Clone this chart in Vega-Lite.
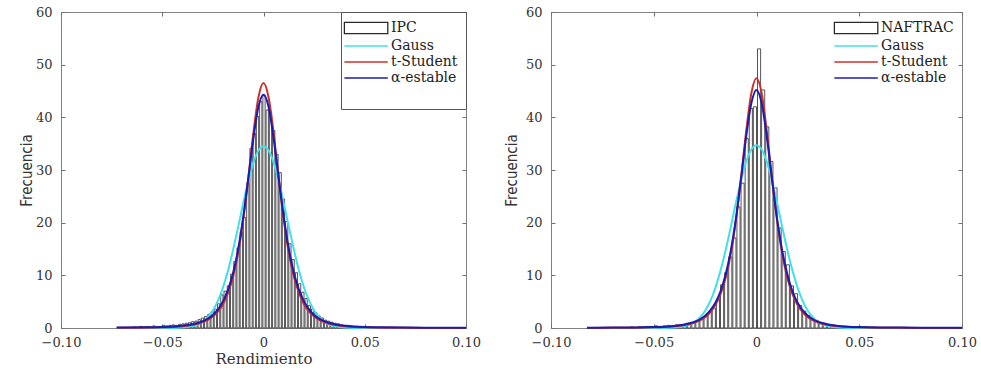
{
  "$schema": "https://vega.github.io/schema/vega-lite/v6.json",
  "padding": {"left": 18, "top": 5, "right": 5, "bottom": 5},
  "background": "white",
  "spacing": 22,
  "config": {
    "view": {"stroke": "#808080", "strokeWidth": 1},
    "axis": {"grid": false, "domain": false, "tickColor": "#707070", "tickSize": -4, "labelFont": "DejaVu Serif", "labelFontSize": 13, "labelColor": "#333333", "titleFont": "DejaVu Serif", "titleFontSize": 15, "titleFontWeight": "normal", "titleColor": "#333333", "labelFlush": false},
    "legend": {"labelFont": "DejaVu Serif", "labelFontSize": 14, "labelColor": "#222222", "symbolSize": 196, "rowPadding": 1, "labelOffset": 26, "symbolStrokeWidth": 1.3}
  },
  "datasets": {
    "ipc_hist": [
      {"lo": -0.0712, "hi": -0.0696, "f": 0.1}, {"lo": -0.0696, "hi": -0.068, "f": 0}, {"lo": -0.068, "hi": -0.0664, "f": 0.1}, {"lo": -0.0664, "hi": -0.0648, "f": 0.1},
      {"lo": -0.0648, "hi": -0.0632, "f": 0.2}, {"lo": -0.0632, "hi": -0.0616, "f": 0.1}, {"lo": -0.0616, "hi": -0.06, "f": 0.3}, {"lo": -0.06, "hi": -0.0584, "f": 0.2},
      {"lo": -0.0584, "hi": -0.0568, "f": 0.3}, {"lo": -0.0568, "hi": -0.0552, "f": 0.2}, {"lo": -0.0552, "hi": -0.0536, "f": 0.4}, {"lo": -0.0536, "hi": -0.052, "f": 0.3},
      {"lo": -0.052, "hi": -0.0504, "f": 0.3}, {"lo": -0.0504, "hi": -0.0488, "f": 0.5}, {"lo": -0.0488, "hi": -0.0472, "f": 0.4}, {"lo": -0.0472, "hi": -0.0456, "f": 0.5},
      {"lo": -0.0456, "hi": -0.044, "f": 0.6}, {"lo": -0.044, "hi": -0.0424, "f": 0.5}, {"lo": -0.0424, "hi": -0.0408, "f": 0.7}, {"lo": -0.0408, "hi": -0.0392, "f": 0.8},
      {"lo": -0.0392, "hi": -0.0376, "f": 0.9}, {"lo": -0.0376, "hi": -0.036, "f": 1.0}, {"lo": -0.036, "hi": -0.0344, "f": 1.2}, {"lo": -0.0344, "hi": -0.0328, "f": 1.3},
      {"lo": -0.0328, "hi": -0.0312, "f": 1.6}, {"lo": -0.0312, "hi": -0.0296, "f": 1.9}, {"lo": -0.0296, "hi": -0.028, "f": 2.2}, {"lo": -0.028, "hi": -0.0264, "f": 2.6},
      {"lo": -0.0264, "hi": -0.0248, "f": 3.1}, {"lo": -0.0248, "hi": -0.0232, "f": 3.6}, {"lo": -0.0232, "hi": -0.0216, "f": 4.6}, {"lo": -0.0216, "hi": -0.02, "f": 6.3},
      {"lo": -0.02, "hi": -0.0184, "f": 7.0}, {"lo": -0.0184, "hi": -0.0168, "f": 8.0}, {"lo": -0.0168, "hi": -0.0152, "f": 10.2}, {"lo": -0.0152, "hi": -0.0136, "f": 12.6},
      {"lo": -0.0136, "hi": -0.012, "f": 15.2}, {"lo": -0.012, "hi": -0.0104, "f": 18.3}, {"lo": -0.0104, "hi": -0.0088, "f": 21.0}, {"lo": -0.0088, "hi": -0.0072, "f": 27.5},
      {"lo": -0.0072, "hi": -0.0056, "f": 34.1}, {"lo": -0.0056, "hi": -0.004, "f": 37.0}, {"lo": -0.004, "hi": -0.0024, "f": 40.2}, {"lo": -0.0024, "hi": -0.0008, "f": 43.0},
      {"lo": -0.0008, "hi": 0.0008, "f": 44.2}, {"lo": 0.0008, "hi": 0.0024, "f": 41.4}, {"lo": 0.0024, "hi": 0.004, "f": 41.0}, {"lo": 0.004, "hi": 0.0056, "f": 37.5},
      {"lo": 0.0056, "hi": 0.0072, "f": 33.0}, {"lo": 0.0072, "hi": 0.0088, "f": 29.5}, {"lo": 0.0088, "hi": 0.0104, "f": 24.5}, {"lo": 0.0104, "hi": 0.012, "f": 20.2},
      {"lo": 0.012, "hi": 0.0136, "f": 16.0}, {"lo": 0.0136, "hi": 0.0152, "f": 13.0}, {"lo": 0.0152, "hi": 0.0168, "f": 10.5}, {"lo": 0.0168, "hi": 0.0184, "f": 8.4},
      {"lo": 0.0184, "hi": 0.02, "f": 6.8}, {"lo": 0.02, "hi": 0.0216, "f": 5.6}, {"lo": 0.0216, "hi": 0.0232, "f": 4.3}, {"lo": 0.0232, "hi": 0.0248, "f": 3.6},
      {"lo": 0.0248, "hi": 0.0264, "f": 2.9}, {"lo": 0.0264, "hi": 0.028, "f": 2.3}, {"lo": 0.028, "hi": 0.0296, "f": 1.9}, {"lo": 0.0296, "hi": 0.0312, "f": 1.5},
      {"lo": 0.0312, "hi": 0.0328, "f": 1.3}, {"lo": 0.0328, "hi": 0.0344, "f": 1.1}, {"lo": 0.0344, "hi": 0.036, "f": 0.9}, {"lo": 0.036, "hi": 0.0376, "f": 0.8},
      {"lo": 0.0376, "hi": 0.0392, "f": 0.6}, {"lo": 0.0392, "hi": 0.0408, "f": 0.5}, {"lo": 0.0408, "hi": 0.0424, "f": 0.5}, {"lo": 0.0424, "hi": 0.044, "f": 0.4},
      {"lo": 0.044, "hi": 0.0456, "f": 0.3}, {"lo": 0.0456, "hi": 0.0472, "f": 0.3}, {"lo": 0.0472, "hi": 0.0488, "f": 0.2}, {"lo": 0.0488, "hi": 0.0504, "f": 0.2},
      {"lo": 0.0504, "hi": 0.052, "f": 0.1}, {"lo": 0.052, "hi": 0.0536, "f": 0.2}, {"lo": 0.0536, "hi": 0.0552, "f": 0.1}, {"lo": 0.0552, "hi": 0.0568, "f": 0.1},
      {"lo": 0.0568, "hi": 0.0584, "f": 0}, {"lo": 0.0584, "hi": 0.06, "f": 0.1}, {"lo": 0.06, "hi": 0.0616, "f": 0}, {"lo": 0.0616, "hi": 0.0632, "f": 0.1},
      {"lo": 0.0632, "hi": 0.0648, "f": 0}
    ],
    "ipc_fit": [
      {"x": -0.0725, "Gauss": 0, "t-Student": 0.025, "α-estable": 0.075},
      {"x": -0.07, "Gauss": 0, "t-Student": 0.028, "α-estable": 0.08},
      {"x": -0.06, "Gauss": 0, "t-Student": 0.055, "α-estable": 0.12},
      {"x": -0.05, "Gauss": 0.003, "t-Student": 0.13, "α-estable": 0.2},
      {"x": -0.045, "Gauss": 0.018, "t-Student": 0.2, "α-estable": 0.28},
      {"x": -0.04, "Gauss": 0.086, "t-Student": 0.34, "α-estable": 0.42},
      {"x": -0.035, "Gauss": 0.35, "t-Student": 0.6, "α-estable": 0.71},
      {"x": -0.0325, "Gauss": 0.66, "t-Student": 0.81, "α-estable": 0.95},
      {"x": -0.03, "Gauss": 1.19, "t-Student": 1.11, "α-estable": 1.29},
      {"x": -0.0275, "Gauss": 2.04, "t-Student": 1.54, "α-estable": 1.78},
      {"x": -0.025, "Gauss": 3.33, "t-Student": 2.18, "α-estable": 2.49},
      {"x": -0.0225, "Gauss": 5.19, "t-Student": 3.12, "α-estable": 3.53},
      {"x": -0.02, "Gauss": 7.7, "t-Student": 4.52, "α-estable": 5.05},
      {"x": -0.0175, "Gauss": 10.9, "t-Student": 6.64, "α-estable": 7.28},
      {"x": -0.015, "Gauss": 14.9, "t-Student": 9.77, "α-estable": 10.5},
      {"x": -0.0125, "Gauss": 19.2, "t-Student": 14.3, "α-estable": 15.0},
      {"x": -0.01, "Gauss": 23.7, "t-Student": 20.6, "α-estable": 21.1},
      {"x": -0.0075, "Gauss": 28.0, "t-Student": 28.5, "α-estable": 28.4},
      {"x": -0.005, "Gauss": 31.4, "t-Student": 37.0, "α-estable": 36.0},
      {"x": -0.0025, "Gauss": 33.7, "t-Student": 43.8, "α-estable": 42.0},
      {"x": 0, "Gauss": 34.5, "t-Student": 46.5, "α-estable": 44.3},
      {"x": 0.0025, "Gauss": 33.7, "t-Student": 43.8, "α-estable": 42.0},
      {"x": 0.005, "Gauss": 31.4, "t-Student": 37.0, "α-estable": 36.0},
      {"x": 0.0075, "Gauss": 28.0, "t-Student": 28.5, "α-estable": 28.4},
      {"x": 0.01, "Gauss": 23.7, "t-Student": 20.6, "α-estable": 21.1},
      {"x": 0.0125, "Gauss": 19.2, "t-Student": 14.3, "α-estable": 15.0},
      {"x": 0.015, "Gauss": 14.9, "t-Student": 9.77, "α-estable": 10.5},
      {"x": 0.0175, "Gauss": 10.9, "t-Student": 6.64, "α-estable": 7.28},
      {"x": 0.02, "Gauss": 7.7, "t-Student": 4.52, "α-estable": 5.05},
      {"x": 0.0225, "Gauss": 5.19, "t-Student": 3.12, "α-estable": 3.53},
      {"x": 0.025, "Gauss": 3.33, "t-Student": 2.18, "α-estable": 2.49},
      {"x": 0.0275, "Gauss": 2.04, "t-Student": 1.54, "α-estable": 1.78},
      {"x": 0.03, "Gauss": 1.19, "t-Student": 1.11, "α-estable": 1.29},
      {"x": 0.0325, "Gauss": 0.66, "t-Student": 0.81, "α-estable": 0.95},
      {"x": 0.035, "Gauss": 0.35, "t-Student": 0.6, "α-estable": 0.71},
      {"x": 0.04, "Gauss": 0.086, "t-Student": 0.34, "α-estable": 0.42},
      {"x": 0.045, "Gauss": 0.018, "t-Student": 0.2, "α-estable": 0.28},
      {"x": 0.05, "Gauss": 0.003, "t-Student": 0.13, "α-estable": 0.2},
      {"x": 0.06, "Gauss": 0, "t-Student": 0.055, "α-estable": 0.12},
      {"x": 0.07, "Gauss": 0, "t-Student": 0.028, "α-estable": 0.08},
      {"x": 0.08, "Gauss": 0, "t-Student": 0.016, "α-estable": 0.06},
      {"x": 0.09, "Gauss": 0, "t-Student": 0.011, "α-estable": 0.05},
      {"x": 0.1, "Gauss": 0, "t-Student": 0.007, "α-estable": 0.04}
    ],
    "naf_hist": [
      {"lo": -0.082, "hi": -0.08, "f": 0.1}, {"lo": -0.08, "hi": -0.078, "f": 0.1}, {"lo": -0.078, "hi": -0.076, "f": 0}, {"lo": -0.076, "hi": -0.074, "f": 0},
      {"lo": -0.074, "hi": -0.072, "f": 0.1}, {"lo": -0.072, "hi": -0.07, "f": 0}, {"lo": -0.07, "hi": -0.068, "f": 0.1}, {"lo": -0.068, "hi": -0.066, "f": 0.1},
      {"lo": -0.066, "hi": -0.064, "f": 0}, {"lo": -0.064, "hi": -0.062, "f": 0.1}, {"lo": -0.062, "hi": -0.06, "f": 0.2}, {"lo": -0.06, "hi": -0.058, "f": 0.1},
      {"lo": -0.058, "hi": -0.056, "f": 0.2}, {"lo": -0.056, "hi": -0.054, "f": 0.2}, {"lo": -0.054, "hi": -0.052, "f": 0.3}, {"lo": -0.052, "hi": -0.05, "f": 0.2},
      {"lo": -0.05, "hi": -0.048, "f": 0.4}, {"lo": -0.048, "hi": -0.046, "f": 0.3}, {"lo": -0.046, "hi": -0.044, "f": 0.4}, {"lo": -0.044, "hi": -0.042, "f": 0.5},
      {"lo": -0.042, "hi": -0.04, "f": 0.4}, {"lo": -0.04, "hi": -0.038, "f": 0.6}, {"lo": -0.038, "hi": -0.036, "f": 0.6}, {"lo": -0.036, "hi": -0.034, "f": 0.7},
      {"lo": -0.034, "hi": -0.032, "f": 0.9}, {"lo": -0.032, "hi": -0.03, "f": 1.0}, {"lo": -0.03, "hi": -0.028, "f": 1.4}, {"lo": -0.028, "hi": -0.026, "f": 1.8},
      {"lo": -0.026, "hi": -0.024, "f": 2.3}, {"lo": -0.024, "hi": -0.022, "f": 3.0}, {"lo": -0.022, "hi": -0.02, "f": 3.8}, {"lo": -0.02, "hi": -0.018, "f": 5.5},
      {"lo": -0.018, "hi": -0.016, "f": 8.2}, {"lo": -0.016, "hi": -0.014, "f": 10.5}, {"lo": -0.014, "hi": -0.012, "f": 13.5}, {"lo": -0.012, "hi": -0.01, "f": 17.1},
      {"lo": -0.01, "hi": -0.008, "f": 23.0}, {"lo": -0.008, "hi": -0.006, "f": 27.5}, {"lo": -0.006, "hi": -0.004, "f": 36.0}, {"lo": -0.004, "hi": -0.002, "f": 41.7},
      {"lo": -0.002, "hi": 0, "f": 42.0}, {"lo": 0, "hi": 0.002, "f": 53.0}, {"lo": 0.002, "hi": 0.004, "f": 45.2}, {"lo": 0.004, "hi": 0.006, "f": 38.2},
      {"lo": 0.006, "hi": 0.008, "f": 31.6}, {"lo": 0.008, "hi": 0.01, "f": 26.6}, {"lo": 0.01, "hi": 0.012, "f": 19.0}, {"lo": 0.012, "hi": 0.014, "f": 14.5},
      {"lo": 0.014, "hi": 0.016, "f": 12.0}, {"lo": 0.016, "hi": 0.018, "f": 8.0}, {"lo": 0.018, "hi": 0.02, "f": 6.5}, {"lo": 0.02, "hi": 0.022, "f": 4.3},
      {"lo": 0.022, "hi": 0.024, "f": 3.2}, {"lo": 0.024, "hi": 0.026, "f": 2.4}, {"lo": 0.026, "hi": 0.028, "f": 1.8}, {"lo": 0.028, "hi": 0.03, "f": 1.4},
      {"lo": 0.03, "hi": 0.032, "f": 1.0}, {"lo": 0.032, "hi": 0.034, "f": 0.8}, {"lo": 0.034, "hi": 0.036, "f": 0.6}, {"lo": 0.036, "hi": 0.038, "f": 0.5},
      {"lo": 0.038, "hi": 0.04, "f": 0.4}, {"lo": 0.04, "hi": 0.042, "f": 0.3}, {"lo": 0.042, "hi": 0.044, "f": 0.3}, {"lo": 0.044, "hi": 0.046, "f": 0.2},
      {"lo": 0.046, "hi": 0.048, "f": 0.2}, {"lo": 0.048, "hi": 0.05, "f": 0.1}, {"lo": 0.05, "hi": 0.052, "f": 0.1}, {"lo": 0.052, "hi": 0.054, "f": 0.1},
      {"lo": 0.054, "hi": 0.056, "f": 0}, {"lo": 0.056, "hi": 0.058, "f": 0.1}, {"lo": 0.058, "hi": 0.06, "f": 0}, {"lo": 0.06, "hi": 0.062, "f": 0},
      {"lo": 0.062, "hi": 0.064, "f": 0.1}, {"lo": 0.064, "hi": 0.066, "f": 0}, {"lo": 0.066, "hi": 0.068, "f": 0}, {"lo": 0.068, "hi": 0.07, "f": 0.1}
    ],
    "naf_fit": [
      {"x": -0.0825, "Gauss": 0, "t-Student": 0.013, "α-estable": 0.058},
      {"x": -0.08, "Gauss": 0, "t-Student": 0.015, "α-estable": 0.06},
      {"x": -0.07, "Gauss": 0, "t-Student": 0.026, "α-estable": 0.08},
      {"x": -0.06, "Gauss": 0, "t-Student": 0.05, "α-estable": 0.11},
      {"x": -0.05, "Gauss": 0.003, "t-Student": 0.12, "α-estable": 0.18},
      {"x": -0.045, "Gauss": 0.017, "t-Student": 0.19, "α-estable": 0.24},
      {"x": -0.04, "Gauss": 0.08, "t-Student": 0.32, "α-estable": 0.38},
      {"x": -0.035, "Gauss": 0.34, "t-Student": 0.56, "α-estable": 0.66},
      {"x": -0.0325, "Gauss": 0.64, "t-Student": 0.76, "α-estable": 0.89},
      {"x": -0.03, "Gauss": 1.15, "t-Student": 1.05, "α-estable": 1.2},
      {"x": -0.0275, "Gauss": 1.99, "t-Student": 1.46, "α-estable": 1.66},
      {"x": -0.025, "Gauss": 3.26, "t-Student": 2.07, "α-estable": 2.34},
      {"x": -0.0225, "Gauss": 5.11, "t-Student": 2.99, "α-estable": 3.34},
      {"x": -0.02, "Gauss": 7.65, "t-Student": 4.36, "α-estable": 4.8},
      {"x": -0.0175, "Gauss": 10.9, "t-Student": 6.43, "α-estable": 6.98},
      {"x": -0.015, "Gauss": 14.8, "t-Student": 9.54, "α-estable": 10.2},
      {"x": -0.0125, "Gauss": 19.2, "t-Student": 14.1, "α-estable": 14.7},
      {"x": -0.01, "Gauss": 23.8, "t-Student": 20.5, "α-estable": 20.8},
      {"x": -0.0075, "Gauss": 28.05, "t-Student": 28.6, "α-estable": 28.4},
      {"x": -0.005, "Gauss": 31.6, "t-Student": 37.4, "α-estable": 36.4},
      {"x": -0.0025, "Gauss": 33.9, "t-Student": 44.6, "α-estable": 42.7},
      {"x": 0, "Gauss": 34.7, "t-Student": 47.4, "α-estable": 45.2},
      {"x": 0.0025, "Gauss": 33.9, "t-Student": 44.6, "α-estable": 42.7},
      {"x": 0.005, "Gauss": 31.6, "t-Student": 37.4, "α-estable": 36.4},
      {"x": 0.0075, "Gauss": 28.05, "t-Student": 28.6, "α-estable": 28.4},
      {"x": 0.01, "Gauss": 23.8, "t-Student": 20.5, "α-estable": 20.8},
      {"x": 0.0125, "Gauss": 19.2, "t-Student": 14.1, "α-estable": 14.7},
      {"x": 0.015, "Gauss": 14.8, "t-Student": 9.54, "α-estable": 10.2},
      {"x": 0.0175, "Gauss": 10.9, "t-Student": 6.43, "α-estable": 6.98},
      {"x": 0.02, "Gauss": 7.65, "t-Student": 4.36, "α-estable": 4.8},
      {"x": 0.0225, "Gauss": 5.11, "t-Student": 2.99, "α-estable": 3.34},
      {"x": 0.025, "Gauss": 3.26, "t-Student": 2.07, "α-estable": 2.34},
      {"x": 0.0275, "Gauss": 1.99, "t-Student": 1.46, "α-estable": 1.66},
      {"x": 0.03, "Gauss": 1.15, "t-Student": 1.05, "α-estable": 1.2},
      {"x": 0.0325, "Gauss": 0.64, "t-Student": 0.76, "α-estable": 0.89},
      {"x": 0.035, "Gauss": 0.34, "t-Student": 0.56, "α-estable": 0.66},
      {"x": 0.04, "Gauss": 0.08, "t-Student": 0.32, "α-estable": 0.38},
      {"x": 0.045, "Gauss": 0.017, "t-Student": 0.19, "α-estable": 0.24},
      {"x": 0.05, "Gauss": 0.003, "t-Student": 0.12, "α-estable": 0.18},
      {"x": 0.06, "Gauss": 0, "t-Student": 0.05, "α-estable": 0.11},
      {"x": 0.07, "Gauss": 0, "t-Student": 0.026, "α-estable": 0.08},
      {"x": 0.08, "Gauss": 0, "t-Student": 0.015, "α-estable": 0.06},
      {"x": 0.09, "Gauss": 0, "t-Student": 0.01, "α-estable": 0.05},
      {"x": 0.1, "Gauss": 0, "t-Student": 0.007, "α-estable": 0.04}
    ]
  },
  "hconcat": [
    {
      "width": 405,
      "height": 316,
      "layer": [
        {
          "data": {"name": "ipc_hist"},
          "mark": {"type": "bar", "fill": "white", "stroke": "#2a2a2a", "strokeWidth": 0.8},
          "encoding": {
            "x": {"field": "lo", "type": "quantitative", "bin": "binned", "scale": {"domain": [-0.1, 0.1], "nice": false},
                  "axis": {"values": [-0.1, -0.05, 0, 0.05, 0.1], "labelExpr": "datum.value == 0 ? '0' : format(datum.value, '.2f')", "title": "Rendimiento", "labelPadding": 12, "titlePadding": 2}},
            "x2": {"field": "hi"},
            "y": {"field": "f", "type": "quantitative", "scale": {"domain": [0, 60], "nice": false},
                  "axis": {"values": [0, 10, 20, 30, 40, 50, 60], "title": "Frecuencia", "titleFont": "Liberation Sans Narrow, DejaVu Sans Condensed, Roboto Condensed, sans-serif", "titleFontSize": 15, "labelPadding": 13, "titlePadding": 1}}
          }
        },
        {
          "data": {"name": "ipc_fit"},
          "transform": [{"fold": ["Gauss", "t-Student", "α-estable"], "as": ["serie", "y"]}],
          "mark": {"type": "line", "strokeWidth": 2, "interpolate": "monotone"},
          "encoding": {
            "x": {"field": "x", "type": "quantitative", "axis": {"orient": "top", "labels": false, "title": null, "values": [-0.1, -0.05, 0, 0.05, 0.1]}},
            "y": {"field": "y", "type": "quantitative", "axis": {"orient": "right", "labels": false, "title": null, "values": [0, 10, 20, 30, 40, 50, 60]}},
            "color": {"field": "serie", "type": "nominal",
                      "scale": {"domain": ["IPC", "Gauss", "t-Student", "α-estable", " "], "range": ["#2a2a2a", "#3FE0E8", "#C8302A", "#1C1CB0", "#ffffff"]},
                      "legend": {"title": null, "orient": "top-right", "offset": 0, "padding": 8, "strokeColor": "#555555", "fillColor": "white",
                                 "symbolSize": 196, "symbolStrokeWidth": 1.3,
                                 "encode": {"symbols": {"update": {
                                   "shape": {"signal": "datum.value == 'IPC' ? 'M-1.8,-0.8H4.4V0.8H-1.8Z' : 'M-1.8,0H4.4'"},
                                   "size": {"value": 196},
                                   "strokeWidth": {"value": 1.3},
                                   "fill": {"signal": "datum.value == 'IPC' ? 'white' : 'transparent'"}}}}}}
          }
        }
      ],
      "resolve": {"axis": {"x": "independent", "y": "independent"}}
    },
    {
      "width": 411,
      "height": 316,
      "layer": [
        {
          "data": {"name": "naf_hist"},
          "mark": {"type": "bar", "fill": "white", "stroke": "#2a2a2a", "strokeWidth": 0.8},
          "encoding": {
            "x": {"field": "lo", "type": "quantitative", "bin": "binned", "scale": {"domain": [-0.1, 0.1], "nice": false},
                  "axis": {"values": [-0.1, -0.05, 0, 0.05, 0.1], "labelExpr": "datum.value == 0 ? '0' : format(datum.value, '.2f')", "title": null, "labelPadding": 12}},
            "x2": {"field": "hi"},
            "y": {"field": "f", "type": "quantitative", "scale": {"domain": [0, 60], "nice": false},
                  "axis": {"values": [0, 10, 20, 30, 40, 50, 60], "title": "Frecuencia", "titleFont": "Liberation Sans Narrow, DejaVu Sans Condensed, Roboto Condensed, sans-serif", "titleFontSize": 15, "labelPadding": 13, "titlePadding": 6}}
          }
        },
        {
          "data": {"name": "naf_fit"},
          "transform": [{"fold": ["Gauss", "t-Student", "α-estable"], "as": ["serie", "y"]}],
          "mark": {"type": "line", "strokeWidth": 2, "interpolate": "monotone"},
          "encoding": {
            "x": {"field": "x", "type": "quantitative", "axis": {"orient": "top", "labels": false, "title": null, "values": [-0.1, -0.05, 0, 0.05, 0.1]}},
            "y": {"field": "y", "type": "quantitative", "axis": {"orient": "right", "labels": false, "title": null, "values": [0, 10, 20, 30, 40, 50, 60]}},
            "color": {"field": "serie", "type": "nominal",
                      "scale": {"domain": ["NAFTRAC", "Gauss", "t-Student", "α-estable"], "range": ["#2a2a2a", "#3FE0E8", "#C8302A", "#1C1CB0"]},
                      "legend": {"title": null, "orient": "top-right", "offset": 0, "padding": 8,
                                 "symbolSize": 196, "symbolStrokeWidth": 1.3,
                                 "encode": {"symbols": {"update": {
                                   "shape": {"signal": "datum.value == 'NAFTRAC' ? 'M-1.8,-0.8H4.4V0.8H-1.8Z' : 'M-1.8,0H4.4'"},
                                   "size": {"value": 196},
                                   "strokeWidth": {"value": 1.3},
                                   "fill": {"signal": "datum.value == 'NAFTRAC' ? 'white' : 'transparent'"}}}}}}
          }
        }
      ],
      "resolve": {"axis": {"x": "independent", "y": "independent"}}
    }
  ],
  "resolve": {"scale": {"color": "independent"}, "legend": {"color": "independent"}}
}
